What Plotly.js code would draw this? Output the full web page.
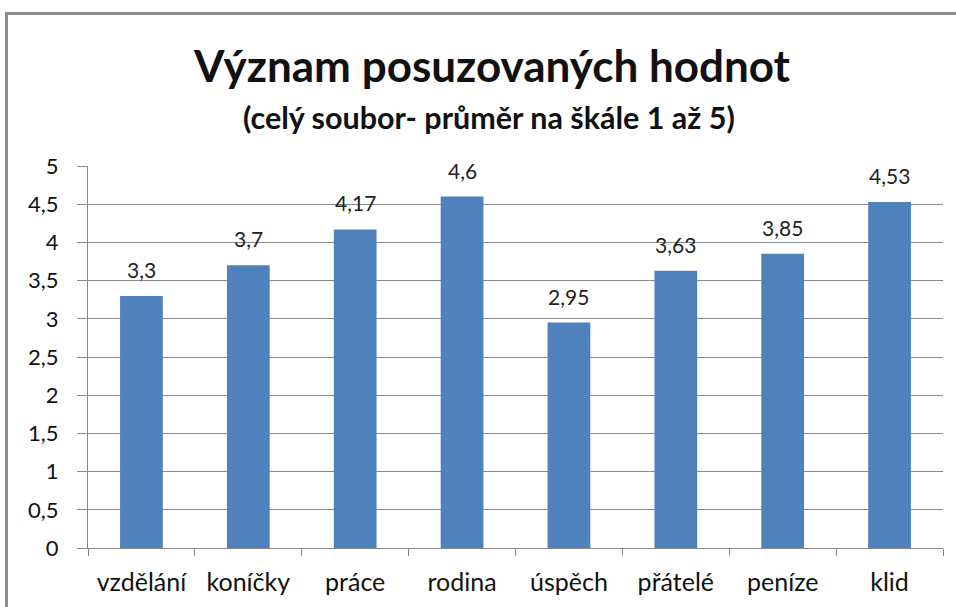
<!DOCTYPE html>
<html>
<head>
<meta charset="utf-8">
<script src="https://cdn.plot.ly/plotly-3.0.1.min.js"></script>
<style>
  html, body { margin: 0; padding: 0; background: #fff; overflow: hidden; }
  #wrap { position: relative; width: 956px; height: 607px; }
  #chart { position: absolute; left: 0; top: 0; width: 956px; height: 607px; }
  #frame { position: absolute; left: 5px; top: 12px; width: 1000px; height: 700px;
           border: 3px solid #8c8c8c; pointer-events: none; box-sizing: border-box; }
</style>
</head>
<body>
<div id="wrap">
  <div id="chart"></div>
  <div id="frame"></div>
</div>
<script>
const categories = ["vzdělání", "koníčky", "práce", "rodina", "úspěch", "přátelé", "peníze", "klid"];
const values = [3.3, 3.7, 4.17, 4.6, 2.95, 3.63, 3.85, 4.53];
const yTickValues = [0, 0.5, 1, 1.5, 2, 2.5, 3, 3.5, 4, 4.5, 5];
const titleText = "Význam posuzovaných hodnot";
const subtitleText = "(celý soubor- průměr na škále 1 až 5)";

const FONT = "Lato, 'Open Sans', sans-serif";

const labelAnnotations = categories.map((c, i) => ({
  x: c, y: values[i], xref: 'x', yref: 'y',
  text: String(values[i]).replace('.', ','),
  showarrow: false, yanchor: 'bottom', yshift: 12,
  font: { family: FONT, size: 21, color: '#222' }
}));

const trace = {
  type: 'bar',
  x: categories,
  y: values,
  marker: { color: '#4F81BD', line: { width: 0 } },
  width: 0.4,
  hoverinfo: 'x+y'
};

const layout = {
  width: 956, height: 607,
  separators: ', ',
  paper_bgcolor: '#ffffff',
  plot_bgcolor: '#ffffff',
  margin: { l: 88, r: 13, t: 166, b: 59 },
  showlegend: false,
  title: {
    text: '<b>' + titleText + '</b>',
    x: 492 / 956, xanchor: 'center', xref: 'container',
    y: 1 - 67 / 607, yanchor: 'middle', yref: 'container',
    font: { family: FONT, size: 44, color: '#111' }
  },
  annotations: [{
    text: '<b>' + subtitleText + '</b>',
    xref: 'paper', yref: 'paper',
    x: (489 - 88) / (956 - 88 - 13), y: 1 + (166 - 117) / (607 - 166 - 59),
    xanchor: 'center', yanchor: 'middle', showarrow: false,
    font: { family: FONT, size: 30.5, color: '#111' }
  }].concat(labelAnnotations),
  xaxis: {
    type: 'category',
    tickson: 'boundaries',
    ticks: 'outside', ticklen: 7, tickcolor: '#888', tickwidth: 1,
    showline: true, linecolor: '#888', linewidth: 1,
    showgrid: false,
    tickfont: { family: FONT, size: 25, color: '#111' },
    ticklabelstandoff: 12,
    fixedrange: true
  },
  yaxis: {
    range: [0, 5],
    tickvals: yTickValues,
    ticktext: yTickValues.map(v => String(v).replace('.', ',')),
    ticks: 'outside', ticklen: 10, tickcolor: '#888', tickwidth: 1,
    showline: true, linecolor: '#888', linewidth: 1,
    showgrid: true, gridcolor: '#8a8a8a', gridwidth: 1,
    zeroline: false,
    tickfont: { family: FONT, size: 22, color: '#111' },
    ticklabelstandoff: 14,
    fixedrange: true
  },
  bargap: 0.6
};

Plotly.newPlot('chart', [trace], layout, { displayModeBar: false, staticPlot: true });
</script>
</body>
</html>
